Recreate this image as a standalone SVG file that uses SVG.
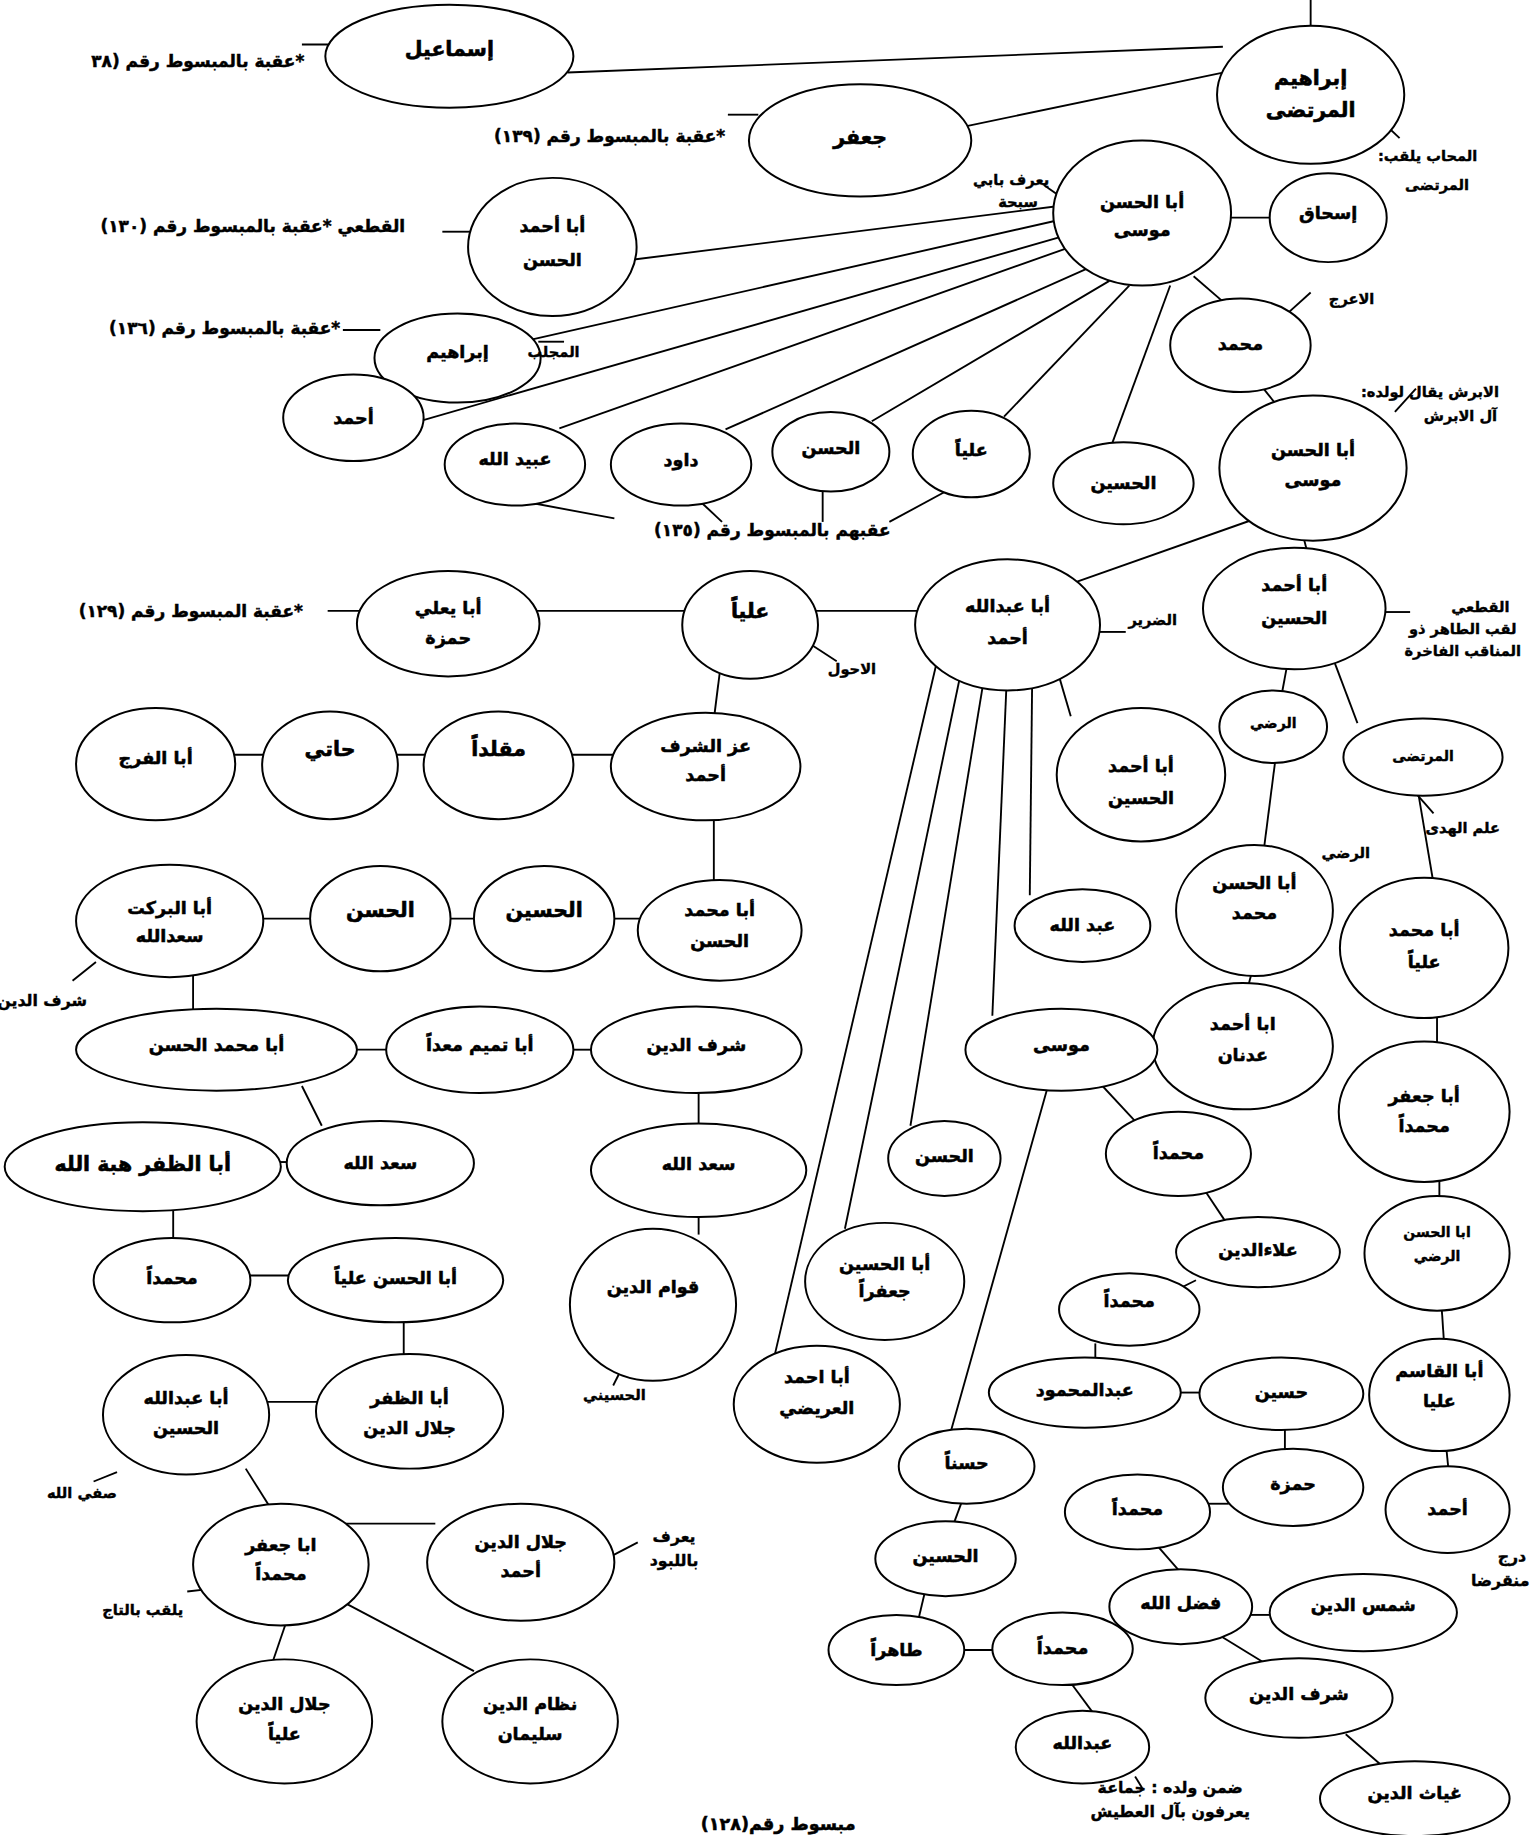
<svg xmlns="http://www.w3.org/2000/svg" width="1540" height="1835" viewBox="0 0 1540 1835">
<style>
ellipse{fill:#fff;stroke:#000;stroke-width:1.7}
line{stroke:#000;stroke-width:1.6}
text{font-family:'DejaVu Sans','Noto Sans',sans-serif;font-weight:bold;fill:#000;stroke:#000;text-anchor:middle}
.t{font-size:15px;stroke-width:0.45}
.b{font-size:17.5px;stroke-width:0.5}
.l{font-size:12.5px;stroke-width:0.35}
.k{font-size:14.5px;stroke-width:0.4}
.m{font-size:13.5px;stroke-width:0.35}
.s{font-size:12px;stroke-width:0.35}
</style>
<rect width="1540" height="1835" fill="#fff"/>
<g transform="scale(1.17022)">
<g id="connectors">
<line x1="1120" y1="0" x2="1120" y2="25"/>
<line x1="485" y1="62" x2="1045" y2="40"/>
<line x1="825" y1="108" x2="1045" y2="62"/>
<line x1="258" y1="38" x2="288" y2="38"/>
<line x1="622" y1="98" x2="648" y2="98"/>
<line x1="1180" y1="103" x2="1196" y2="118"/>
<line x1="892" y1="158" x2="906" y2="168"/>
<line x1="1048" y1="186" x2="1088" y2="186"/>
<line x1="905" y1="176" x2="540" y2="222"/>
<line x1="378" y1="198" x2="405" y2="198"/>
<line x1="905" y1="188" x2="455" y2="290"/>
<line x1="293" y1="282" x2="325" y2="282"/>
<line x1="460" y1="292" x2="482" y2="292"/>
<line x1="908" y1="202" x2="358" y2="360"/>
<line x1="912" y1="212" x2="478" y2="366"/>
<line x1="928" y1="230" x2="620" y2="367"/>
<line x1="948" y1="240" x2="745" y2="360"/>
<line x1="965" y1="244" x2="858" y2="356"/>
<line x1="1000" y1="244" x2="950" y2="380"/>
<line x1="450" y1="429" x2="525" y2="443"/>
<line x1="600" y1="430" x2="617" y2="446"/>
<line x1="703" y1="418" x2="703" y2="446"/>
<line x1="808" y1="420" x2="760" y2="446"/>
<line x1="1020" y1="236" x2="1050" y2="262"/>
<line x1="1100" y1="268" x2="1120" y2="250"/>
<line x1="1078" y1="330" x2="1090" y2="345"/>
<line x1="1192" y1="352" x2="1210" y2="332"/>
<line x1="1068" y1="445" x2="912" y2="500"/>
<line x1="1112" y1="452" x2="1118" y2="475"/>
<line x1="280" y1="522" x2="310" y2="522"/>
<line x1="455" y1="522" x2="588" y2="522"/>
<line x1="695" y1="522" x2="787" y2="522"/>
<line x1="695" y1="552" x2="715" y2="565"/>
<line x1="937" y1="540" x2="962" y2="540"/>
<line x1="1182" y1="523" x2="1205" y2="523"/>
<line x1="615" y1="575" x2="610" y2="615"/>
<line x1="485" y1="645" x2="527" y2="645"/>
<line x1="335" y1="645" x2="367" y2="645"/>
<line x1="195" y1="645" x2="228" y2="645"/>
<line x1="610" y1="695" x2="610" y2="756"/>
<line x1="520" y1="785" x2="550" y2="785"/>
<line x1="380" y1="785" x2="410" y2="785"/>
<line x1="220" y1="785" x2="270" y2="785"/>
<line x1="62" y1="838" x2="82" y2="822"/>
<line x1="165" y1="830" x2="165" y2="866"/>
<line x1="300" y1="897" x2="335" y2="897"/>
<line x1="485" y1="897" x2="510" y2="897"/>
<line x1="258" y1="928" x2="275" y2="962"/>
<line x1="235" y1="993" x2="250" y2="993"/>
<line x1="597" y1="930" x2="597" y2="965"/>
<line x1="148" y1="1030" x2="148" y2="1062"/>
<line x1="210" y1="1090" x2="250" y2="1090"/>
<line x1="597" y1="1036" x2="597" y2="1055"/>
<line x1="530" y1="1172" x2="524" y2="1184"/>
<line x1="345" y1="1126" x2="345" y2="1162"/>
<line x1="226" y1="1198" x2="274" y2="1198"/>
<line x1="100" y1="1258" x2="80" y2="1266"/>
<line x1="210" y1="1255" x2="232" y2="1290"/>
<line x1="290" y1="1302" x2="372" y2="1302"/>
<line x1="522" y1="1330" x2="545" y2="1318"/>
<line x1="160" y1="1360" x2="178" y2="1358"/>
<line x1="245" y1="1385" x2="232" y2="1423"/>
<line x1="295" y1="1370" x2="405" y2="1428"/>
<line x1="905" y1="578" x2="915" y2="612"/>
<line x1="882" y1="584" x2="880" y2="765"/>
<line x1="860" y1="587" x2="848" y2="868"/>
<line x1="840" y1="585" x2="778" y2="962"/>
<line x1="820" y1="580" x2="722" y2="1050"/>
<line x1="800" y1="568" x2="662" y2="1158"/>
<line x1="1100" y1="568" x2="1095" y2="595"/>
<line x1="1140" y1="565" x2="1160" y2="618"/>
<line x1="1210" y1="678" x2="1225" y2="695"/>
<line x1="1090" y1="648" x2="1080" y2="726"/>
<line x1="1212" y1="678" x2="1225" y2="755"/>
<line x1="1070" y1="830" x2="1066" y2="845"/>
<line x1="1228" y1="868" x2="1228" y2="893"/>
<line x1="930" y1="915" x2="970" y2="958"/>
<line x1="895" y1="930" x2="812" y2="1225"/>
<line x1="1030" y1="1018" x2="1048" y2="1045"/>
<line x1="1010" y1="1100" x2="1022" y2="1094"/>
<line x1="1230" y1="1008" x2="1230" y2="1025"/>
<line x1="1232" y1="1118" x2="1234" y2="1148"/>
<line x1="936" y1="1148" x2="936" y2="1163"/>
<line x1="1006" y1="1190" x2="1028" y2="1190"/>
<line x1="1098" y1="1220" x2="1098" y2="1240"/>
<line x1="1030" y1="1285" x2="1050" y2="1285"/>
<line x1="1236" y1="1238" x2="1238" y2="1258"/>
<line x1="822" y1="1283" x2="815" y2="1302"/>
<line x1="990" y1="1322" x2="1010" y2="1345"/>
<line x1="1066" y1="1380" x2="1090" y2="1380"/>
<line x1="790" y1="1362" x2="785" y2="1383"/>
<line x1="822" y1="1410" x2="852" y2="1410"/>
<line x1="1043" y1="1398" x2="1082" y2="1422"/>
<line x1="915" y1="1438" x2="935" y2="1465"/>
<line x1="970" y1="1518" x2="976" y2="1528"/>
<line x1="1150" y1="1482" x2="1180" y2="1508"/>
</g>
<g id="n1"><ellipse cx="384" cy="48" rx="106" ry="44"/><text class="b" x="384" y="48">إسماعيل</text></g>
<g id="n2"><ellipse cx="1120" cy="81" rx="80" ry="59"/><text class="b" x="1120" y="73">إبراهيم</text><text class="b" x="1120" y="100">المرتضى</text></g>
<g id="n3"><ellipse cx="735" cy="120" rx="95" ry="48"/><text class="b" x="735" y="123">جعفر</text></g>
<g id="n4"><ellipse cx="976" cy="182" rx="76" ry="62"/><text class="t" x="976" y="178">أبا الحسن</text><text class="t" x="976" y="202">موسى</text></g>
<g id="n5"><ellipse cx="1135" cy="186" rx="50" ry="38"/><text class="t" x="1135" y="187">إسحاق</text></g>
<g id="n6"><ellipse cx="472" cy="211" rx="72" ry="59"/><text class="t" x="472" y="198">أبا أحمد</text><text class="t" x="472" y="227">الحسن</text></g>
<g id="n7"><ellipse cx="391" cy="306" rx="71" ry="38"/><text class="t" x="391" y="306">إبراهيم</text></g>
<g id="n8"><ellipse cx="302" cy="357" rx="60" ry="37"/><text class="t" x="302" y="362">أحمد</text></g>
<g id="n9"><ellipse cx="440" cy="397" rx="60" ry="35"/><text class="t" x="440" y="397">عبيد الله</text></g>
<g id="n10"><ellipse cx="582" cy="397" rx="60" ry="35"/><text class="t" x="582" y="398">داود</text></g>
<g id="n11"><ellipse cx="710" cy="386" rx="50" ry="34"/><text class="t" x="710" y="388">الحسن</text></g>
<g id="n12"><ellipse cx="830" cy="388" rx="50" ry="37"/><text class="t" x="830" y="390">علياً</text></g>
<g id="n13"><ellipse cx="960" cy="413" rx="60" ry="35"/><text class="t" x="960" y="418">الحسين</text></g>
<g id="n14"><ellipse cx="1060" cy="295" rx="60" ry="40"/><text class="t" x="1060" y="299">محمد</text></g>
<g id="n15"><ellipse cx="1122" cy="400" rx="80" ry="62"/><text class="t" x="1122" y="390">أبا الحسن</text><text class="t" x="1122" y="415">موسى</text></g>
<g id="n16"><ellipse cx="383" cy="533" rx="78" ry="45"/><text class="t" x="383" y="525">أبا يعلي</text><text class="t" x="383" y="550">حمزة</text></g>
<g id="n17"><ellipse cx="641" cy="534" rx="58" ry="46"/><text class="b" x="641" y="528">علياً</text></g>
<g id="n18"><ellipse cx="861" cy="534" rx="79" ry="56"/><text class="t" x="861" y="523">أبا عبدالله</text><text class="t" x="861" y="550">أحمد</text></g>
<g id="n19"><ellipse cx="1106" cy="520" rx="78" ry="52"/><text class="t" x="1106" y="505">أبا أحمد</text><text class="t" x="1106" y="533">الحسين</text></g>
<g id="n20"><ellipse cx="603" cy="655" rx="81" ry="46"/><text class="t" x="603" y="643">عز الشرف</text><text class="t" x="603" y="667">أحمد</text></g>
<g id="n21"><ellipse cx="426" cy="654" rx="64" ry="46"/><text class="b" x="426" y="646">مقلداً</text></g>
<g id="n22"><ellipse cx="282" cy="654" rx="58" ry="46"/><text class="b" x="282" y="646">حاتي</text></g>
<g id="n23"><ellipse cx="133" cy="653" rx="68" ry="48"/><text class="t" x="133" y="653">أبا الفرج</text></g>
<g id="n24"><ellipse cx="975" cy="662" rx="72" ry="57"/><text class="t" x="975" y="660">أبا أحمد</text><text class="t" x="975" y="687">الحسين</text></g>
<g id="n25"><ellipse cx="1088" cy="621" rx="46" ry="31"/><text class="s" x="1088" y="622">الرضي</text></g>
<g id="n26"><ellipse cx="1216" cy="647" rx="68" ry="33"/><text class="s" x="1216" y="650">المرتضى</text></g>
<g id="n27"><ellipse cx="615" cy="795" rx="70" ry="43"/><text class="t" x="615" y="783">أبا محمد</text><text class="t" x="615" y="809">الحسن</text></g>
<g id="n28"><ellipse cx="465" cy="785" rx="60" ry="45"/><text class="b" x="465" y="784">الحسين</text></g>
<g id="n29"><ellipse cx="325" cy="785" rx="60" ry="45"/><text class="b" x="325" y="784">الحسن</text></g>
<g id="n30"><ellipse cx="145" cy="787" rx="80" ry="48"/><text class="t" x="145" y="781">أبا البركت</text><text class="t" x="145" y="805">سعدالله</text></g>
<g id="n31"><ellipse cx="925" cy="791" rx="58" ry="31"/><text class="t" x="925" y="796">عبد الله</text></g>
<g id="n32"><ellipse cx="1072" cy="778" rx="67" ry="56"/><text class="t" x="1072" y="760">أبا الحسن</text><text class="t" x="1072" y="785">محمد</text></g>
<g id="n33"><ellipse cx="1217" cy="810" rx="72" ry="60"/><text class="t" x="1217" y="800">أبا محمد</text><text class="t" x="1217" y="827">علياً</text></g>
<g id="n34"><ellipse cx="1062" cy="894" rx="77" ry="54"/><text class="t" x="1062" y="880">ابا أحمد</text><text class="t" x="1062" y="907">عدنان</text></g>
<g id="n35"><ellipse cx="907" cy="897" rx="82" ry="35"/><text class="t" x="907" y="898">موسى</text></g>
<g id="n36"><ellipse cx="185" cy="897" rx="120" ry="35"/><text class="t" x="185" y="898">أبا محمد الحسن</text></g>
<g id="n37"><ellipse cx="410" cy="897" rx="80" ry="37"/><text class="t" x="410" y="898">أبا تميم معداً</text></g>
<g id="n38"><ellipse cx="595" cy="897" rx="90" ry="37"/><text class="t" x="595" y="898">شرف الدين</text></g>
<g id="n39"><ellipse cx="1217" cy="950" rx="73" ry="60"/><text class="t" x="1217" y="942">أبا جعفر</text><text class="t" x="1217" y="967">محمداً</text></g>
<g id="n40"><ellipse cx="807" cy="990" rx="48" ry="32"/><text class="t" x="807" y="993">الحسن</text></g>
<g id="n41"><ellipse cx="1007" cy="986" rx="62" ry="36"/><text class="t" x="1007" y="990">محمداً</text></g>
<g id="n42"><ellipse cx="325" cy="994" rx="80" ry="36"/><text class="t" x="325" y="999">سعد الله</text></g>
<g id="n43"><ellipse cx="122" cy="997" rx="118" ry="38"/><text class="b" x="122" y="1001">أبا الظفر هبة الله</text></g>
<g id="n44"><ellipse cx="597" cy="1000" rx="92" ry="40"/><text class="t" x="597" y="1000">سعد الله</text></g>
<g id="n45"><ellipse cx="1075" cy="1070" rx="70" ry="30"/><text class="t" x="1075" y="1073">علاءالدين</text></g>
<g id="n46"><ellipse cx="1228" cy="1071" rx="62" ry="49"/><text class="s" x="1228" y="1057">ابا الحسن</text><text class="s" x="1228" y="1078">الرضي</text></g>
<g id="n47"><ellipse cx="147" cy="1094" rx="67" ry="36"/><text class="t" x="147" y="1097">محمداً</text></g>
<g id="n48"><ellipse cx="338" cy="1094" rx="92" ry="36"/><text class="t" x="338" y="1097">أبا الحسن علياً</text></g>
<g id="n49"><ellipse cx="558" cy="1115" rx="71" ry="65"/><text class="t" x="558" y="1105">قوام الدين</text></g>
<g id="n50"><ellipse cx="965" cy="1119" rx="60" ry="31"/><text class="t" x="965" y="1117">محمداً</text></g>
<g id="n51"><ellipse cx="756" cy="1095" rx="68" ry="50"/><text class="t" x="756" y="1085">أبا الحسين</text><text class="t" x="756" y="1108">جعفراً</text></g>
<g id="n52"><ellipse cx="698" cy="1200" rx="71" ry="50"/><text class="t" x="698" y="1182">أبا احمد</text><text class="t" x="698" y="1208">العريضي</text></g>
<g id="n53"><ellipse cx="1230" cy="1192" rx="60" ry="48"/><text class="t" x="1230" y="1177">أبا القاسم</text><text class="t" x="1230" y="1202">عليا</text></g>
<g id="n54"><ellipse cx="927" cy="1190" rx="82" ry="30"/><text class="t" x="927" y="1193">عبدالمحمود</text></g>
<g id="n55"><ellipse cx="1095" cy="1191" rx="70" ry="31"/><text class="t" x="1095" y="1195">حسين</text></g>
<g id="n56"><ellipse cx="159" cy="1209" rx="71" ry="51"/><text class="t" x="159" y="1200">أبا عبدالله</text><text class="t" x="159" y="1225">الحسين</text></g>
<g id="n57"><ellipse cx="350" cy="1206" rx="80" ry="49"/><text class="t" x="350" y="1200">أبا الظفر</text><text class="t" x="350" y="1225">جلال الدين</text></g>
<g id="n58"><ellipse cx="826" cy="1253" rx="58" ry="32"/><text class="t" x="826" y="1255">حسناً</text></g>
<g id="n59"><ellipse cx="1105" cy="1271" rx="60" ry="33"/><text class="t" x="1105" y="1273">حمزة</text></g>
<g id="n60"><ellipse cx="972" cy="1292" rx="62" ry="32"/><text class="t" x="972" y="1295">محمداً</text></g>
<g id="n61"><ellipse cx="1237" cy="1290" rx="53" ry="37"/><text class="t" x="1237" y="1295">أحمد</text></g>
<g id="n62"><ellipse cx="240" cy="1337" rx="75" ry="52"/><text class="t" x="240" y="1325">ابا جعفر</text><text class="t" x="240" y="1350">محمداً</text></g>
<g id="n63"><ellipse cx="445" cy="1335" rx="80" ry="50"/><text class="t" x="445" y="1323">جلال الدين</text><text class="t" x="445" y="1348">أحمد</text></g>
<g id="n64"><ellipse cx="808" cy="1332" rx="60" ry="32"/><text class="t" x="808" y="1335">الحسين</text></g>
<g id="n65"><ellipse cx="1009" cy="1373" rx="61" ry="32"/><text class="t" x="1009" y="1375">فضل الله</text></g>
<g id="n66"><ellipse cx="1165" cy="1378" rx="80" ry="33"/><text class="t" x="1165" y="1377">شمس الدين</text></g>
<g id="n67"><ellipse cx="766" cy="1410" rx="58" ry="30"/><text class="t" x="766" y="1415">طاهراً</text></g>
<g id="n68"><ellipse cx="908" cy="1409" rx="60" ry="31"/><text class="t" x="908" y="1413">محمداً</text></g>
<g id="n69"><ellipse cx="1110" cy="1451" rx="80" ry="34"/><text class="t" x="1110" y="1453">شرف الدين</text></g>
<g id="n70"><ellipse cx="243" cy="1471" rx="75" ry="53"/><text class="t" x="243" y="1461">جلال الدين</text><text class="t" x="243" y="1487">علياً</text></g>
<g id="n71"><ellipse cx="453" cy="1471" rx="75" ry="53"/><text class="t" x="453" y="1461">نظام الدين</text><text class="t" x="453" y="1487">سليمان</text></g>
<g id="n72"><ellipse cx="925" cy="1493" rx="57" ry="31"/><text class="t" x="925" y="1495">عبدالله</text></g>
<g id="n73"><ellipse cx="1209" cy="1537" rx="81" ry="32"/><text class="t" x="1209" y="1537">غياث الدين</text></g>
<g id="labels">
<text class="k" x="169" y="57" direction="rtl">*عقبة بالمبسوط رقم (٣٨</text>
<text class="k" x="521" y="121" direction="rtl">*عقبة بالمبسوط رقم (١٣٩)</text>
<text class="l" x="1220" y="138" direction="rtl">المحاب يلقب:</text>
<text class="l" x="1228" y="162" direction="rtl">المرتضى</text>
<text class="l" x="864" y="158" direction="rtl">يعرف بابي</text>
<text class="l" x="870" y="177" direction="rtl">سبحة</text>
<text class="k" x="216" y="198" direction="rtl">القطعي *عقبة بالمبسوط رقم (١٣٠)</text>
<text class="k" x="192" y="285" direction="rtl">*عقبة بالمبسوط رقم (١٣٦)</text>
<text class="l" x="473" y="305" direction="rtl">المجلب</text>
<text class="l" x="1155" y="260" direction="rtl">الاعرج</text>
<text class="l" x="1222" y="339" direction="rtl">الابرش يقال لولده:</text>
<text class="l" x="1248" y="360" direction="rtl">آل الابرش</text>
<text class="k" x="660" y="458" direction="rtl">عقبهم بالمبسوط رقم (١٣٥)</text>
<text class="k" x="163" y="527" direction="rtl">*عقبة المبسوط رقم (١٢٩)</text>
<text class="l" x="728" y="576" direction="rtl">الاحول</text>
<text class="l" x="985" y="534" direction="rtl">الضرير</text>
<text class="l" x="1265" y="523" direction="rtl">القطعي</text>
<text class="l" x="1250" y="542" direction="rtl">لقب الطاهر ذو</text>
<text class="l" x="1250" y="561" direction="rtl">المناقب الفاخرة</text>
<text class="l" x="1250" y="712" direction="rtl">علم الهدى</text>
<text class="l" x="1150" y="733" direction="rtl">الرضي</text>
<text class="m" x="36" y="860" direction="rtl">شرف الدين</text>
<text class="l" x="525" y="1196" direction="rtl">الحسيني</text>
<text class="l" x="70" y="1280" direction="rtl">صفي الله</text>
<text class="l" x="122" y="1380" direction="rtl">يلقب بالتاج</text>
<text class="m" x="576" y="1318" direction="rtl">يعرف</text>
<text class="m" x="576" y="1338" direction="rtl">باللبود</text>
<text class="m" x="1292" y="1335" direction="rtl">درج</text>
<text class="m" x="1282" y="1355" direction="rtl">منقرضا</text>
<text class="m" x="1000" y="1532" direction="rtl">ضمن ولده : جماعة</text>
<text class="m" x="1000" y="1553" direction="rtl">يعرفون بآل العطيش</text>
<text class="t" x="665" y="1564" direction="rtl">مبسوط رقم(١٢٨)</text>
</g>
</g>
</svg>
